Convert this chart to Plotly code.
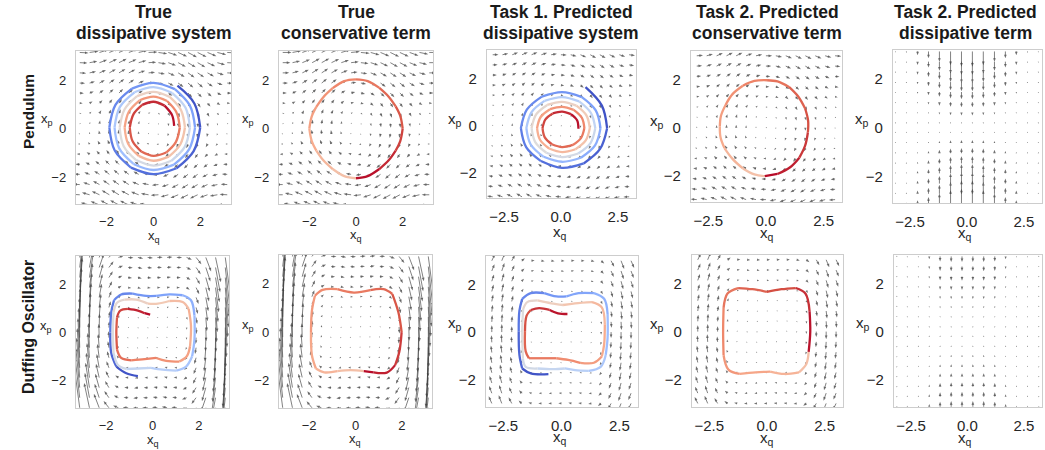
import math
import plotly.graph_objects as go

W, H = 1045, 450
FONT = "Liberation Sans, Arial, sans-serif"

# ---------------- grids of the vector fields ----------------
GRID_A = [-3.14, -2.72, -2.30, -1.88, -1.47, -1.05, -0.63, -0.21, 0.21, 0.63, 1.05, 1.47, 1.88, 2.30, 2.72, 3.14]
GRID_B = [-3.0, -2.57, -2.14, -1.71, -1.29, -0.86, -0.43, 0.0, 0.43, 0.86, 1.29, 1.71, 2.14, 2.57, 3.0]
GRID_C = [-3.14, -2.66, -2.17, -1.69, -1.21, -0.72, -0.24, 0.24, 0.72, 1.21, 1.69, 2.17, 2.66, 3.14]

# dq/dt per row (equals x_p on each grid row)
QDOT_A = [-3.14, -2.72, -2.30, -1.88, -1.47, -1.05, -0.63, -0.21, 0.21, 0.63, 1.05, 1.47, 1.88, 2.30, 2.72, 3.14]
QDOT_B = [-3.0, -2.57, -2.14, -1.71, -1.29, -0.86, -0.43, 0.0, 0.43, 0.86, 1.29, 1.71, 2.14, 2.57, 3.0]

# dp/dt: conservative part per column, dissipative part per row
PEND_FORCE_A = [0.00, 0.60, 1.10, 1.40, 1.46, 1.27, 0.87, 0.31, -0.31, -0.87, -1.27, -1.46, -1.40, -1.10, -0.60, 0.00]
PEND_DAMP_A = [0.16, 0.14, 0.12, 0.09, 0.07, 0.05, 0.03, 0.01, -0.01, -0.03, -0.05, -0.07, -0.09, -0.12, -0.14, -0.16]
PEND_FORCE_B = [0.21, 0.80, 1.24, 1.46, 1.41, 1.11, 0.61, 0.0, -0.61, -1.11, -1.41, -1.46, -1.24, -0.80, -0.21]
PEND_DAMP_B = [0.18, 0.15, 0.13, 0.10, 0.08, 0.05, 0.03, 0.0, -0.03, -0.05, -0.08, -0.10, -0.13, -0.15, -0.18]
PEND_DISS_GAIN_C = [0.03, 0.10, 0.25, 0.45, 0.68, 0.90, 1.0, 1.0, 0.90, 0.68, 0.45, 0.25, 0.10, 0.03]

DUFF_FORCE_A = [22.71, 14.08, 7.86, 3.67, 1.18, -0.08, -0.42, -0.20, 0.20, 0.42, 0.08, -1.18, -3.67, -7.86, -14.08, -22.71]
DUFF_DAMP_A = [0.16, 0.14, 0.12, 0.09, 0.07, 0.05, 0.03, 0.01, -0.01, -0.03, -0.05, -0.07, -0.09, -0.12, -0.14, -0.16]
DUFF_FORCE_B1 = [6.5, 7.5, 5.5, 2.5, 0.6, -0.3, -0.35, 0.0, 0.35, 0.3, -0.6, -2.5, -5.5, -7.5, -6.5]
DUFF_FORCE_B2 = [6.0, 7.0, 5.0, 2.2, 0.6, -0.3, -0.3, 0.0, 0.3, 0.3, -0.6, -2.2, -5.0, -7.0, -6.0]
DUFF_DAMP_B = [0.18, 0.15, 0.13, 0.10, 0.08, 0.05, 0.03, 0.0, -0.03, -0.05, -0.08, -0.10, -0.13, -0.15, -0.18]
DUFF_DISS_GAIN_C = [0.0, 0.05, 0.15, 0.5, 0.9, 1.0, 1.0, 1.0, 1.0, 0.9, 0.5, 0.15, 0.05, 0.0]

# ---------------- trajectories (x_q, x_p) ----------------
PEND_TRUE_Q = [1.02, 1.74, 1.99, 1.71, 0.98, 0.0, -0.96, -1.65, -1.88, -1.62, -0.92, 0.0,
               0.91, 1.55, 1.77, 1.52, 0.87, 0.0, -0.85, -1.46, -1.66, -1.43, -0.81, 0.0,
               0.80, 1.36, 1.55, 1.33, 0.76, 0.0, -0.74, -1.27, -1.44, -1.23, -0.70, 0.0,
               0.69, 1.17, 1.34, 1.14, 0.65, 0.0, -0.63, -1.08, -1.23, -1.05, -0.59, 0.0,
               0.58, 0.98, 1.12, 0.95, 0.54, 0.0, -0.52, -0.89, -1.01, -0.85, -0.48, 0.0,
               0.47, 0.79, 0.88]
PEND_TRUE_P = [1.77, 1.04, 0.05, -0.92, -1.63, -1.87, -1.60, -0.90, 0.05, 0.98, 1.65, 1.89,
               1.63, 0.95, 0.05, -0.84, -1.48, -1.70, -1.45, -0.81, 0.05, 0.90, 1.50, 1.71,
               1.47, 0.87, 0.05, -0.75, -1.32, -1.52, -1.29, -0.72, 0.05, 0.80, 1.34, 1.52,
               1.31, 0.77, 0.05, -0.65, -1.15, -1.32, -1.12, -0.62, 0.05, 0.70, 1.17, 1.32,
               1.14, 0.67, 0.05, -0.55, -0.98, -1.12, -0.94, -0.52, 0.05, 0.60, 0.98, 1.11,
               0.95, 0.56, 0.12]

PEND_PRED_Q = [1.08, 1.80, 2.03, 1.72, 1.00, 0.05, -0.88, -1.53, -1.76, -1.50, -0.84, 0.05,
               0.92, 1.53, 1.74, 1.50, 0.88, 0.05, -0.76, -1.33, -1.52, -1.29, -0.72, 0.05,
               0.80, 1.32, 1.51, 1.30, 0.76, 0.05, -0.64, -1.13, -1.29, -1.09, -0.60, 0.05,
               0.68, 1.12, 1.27, 1.09, 0.64, 0.05, -0.52, -0.92, -1.05, -0.89, -0.48, 0.05,
               0.56, 0.92, 1.03, 0.88, 0.52, 0.05, -0.40, -0.71, -0.81, -0.68, -0.36, 0.05,
               0.44, 0.71, 0.77]
PEND_PRED_P = [1.63, 0.85, -0.10, -0.98, -1.59, -1.78, -1.49, -0.90, -0.10, 0.68, 1.23, 1.42,
               1.21, 0.65, -0.10, -0.83, -1.35, -1.52, -1.31, -0.79, -0.10, 0.58, 1.05, 1.21,
               1.03, 0.54, -0.10, -0.73, -1.17, -1.32, -1.14, -0.69, -0.10, 0.48, 0.88, 1.01,
               0.85, 0.44, -0.10, -0.62, -0.99, -1.11, -0.96, -0.59, -0.10, 0.37, 0.70, 0.80,
               0.67, 0.34, -0.10, -0.52, -0.81, -0.90, -0.78, -0.49, -0.10, 0.27, 0.52, 0.60,
               0.49, 0.23, -0.13]

PEND_CONS_TRUE_Q = [0.0, -0.5, -1.0, -1.4, -1.7, -1.9, -2.0, -1.9, -1.7, -1.4, -1.0, -0.5, 0.0,
                    0.5, 1.0, 1.4, 1.7, 1.9, 2.0, 1.9, 1.7, 1.4, 1.0, 0.5, 0.0]
PEND_CONS_TRUE_P = [-2.04, -1.95, -1.66, -1.30, -0.90, -0.50, 0.0, 0.50, 0.90, 1.30, 1.67, 1.96, 2.03,
                    1.96, 1.68, 1.32, 0.92, 0.52, 0.0, -0.50, -0.90, -1.30, -1.66, -1.95, -2.04]
PEND_CONS_PRED_Q = [-0.05, -0.5, -1.0, -1.45, -1.8, -1.97, -2.0, -1.95, -1.75, -1.45, -1.0, -0.5,
                    0.05, 0.5, 1.0, 1.4, 1.7, 1.83, 1.82, 1.7, 1.45, 1.05, 0.5, -0.05]
PEND_CONS_PRED_P = [-2.02, -1.95, -1.70, -1.30, -0.85, -0.40, 0.05, 0.50, 0.95, 1.40, 1.75, 1.95,
                    1.98, 1.93, 1.70, 1.30, 0.80, 0.30, -0.20, -0.75, -1.25, -1.65, -1.93, -2.02]

DUFF_TRUE_Q = [-0.63, -1.13, -1.56, -1.78, -1.82, -1.78, -1.66, -1.35, -0.85, -0.27, 0.16, 0.73, 1.30,
               1.66, 1.81, 1.81, 1.71, 1.45, 1.02, 0.44, -0.06, -0.63, -1.13, -1.49,
               -1.68, -1.71, -1.68, -1.53, -1.20, -0.70, -0.20, 0.23, 0.73, 1.30, 1.56, 1.66, 1.62,
               1.48, 1.16, 0.59, 0.16, -0.34, -0.92, -1.35,
               -1.53, -1.56, -1.53, -1.39, -1.06, -0.63, -0.34, -0.10]
DUFF_TRUE_P = [-1.82, -1.70, -1.42, -0.85, 0.0, 0.85, 1.35, 1.59, 1.63, 1.53, 1.53, 1.60, 1.56,
               1.35, 0.71, -0.28, -0.99, -1.42, -1.59, -1.55, -1.47, -1.50, -1.52, -1.35,
               -0.85, 0.0, 0.85, 1.25, 1.38, 1.38, 1.21, 1.21, 1.32, 1.28, 0.99, 0.28, -0.57,
               -0.99, -1.21, -1.18, -1.06, -1.11, -1.16, -1.06,
               -0.71, 0.0, 0.64, 0.92, 0.99, 0.92, 0.81, 0.75]

DUFF_PRED_Q = [-0.56, -1.32, -1.69, -1.81, -1.84, -1.81, -1.69, -1.32, -0.74, -0.22, 0.22, 0.74, 1.40,
               1.84, 1.99, 1.99, 1.91, 1.69, 1.18, 0.59, 0.15, -0.37, -1.03, -1.54,
               -1.66, -1.69, -1.65, -1.47, -1.03, -0.44, 0.07, 0.59, 1.32, 1.74, 1.87, 1.84, 1.74,
               1.40, 0.81, 0.29, -0.22, -0.88, -1.40,
               -1.54, -1.57, -1.50, -1.32, -0.96, -0.51, -0.15, 0.26]
DUFF_PRED_P = [-1.77, -1.74, -1.53, -0.96, 0.04, 0.90, 1.40, 1.64, 1.64, 1.50, 1.50, 1.64, 1.64,
               1.40, 0.76, -0.24, -0.96, -1.46, -1.63, -1.60, -1.53, -1.56, -1.53, -1.46,
               -1.10, 0.04, 0.97, 1.26, 1.33, 1.21, 1.14, 1.21, 1.26, 1.04, 0.33, -0.53, -1.03,
               -1.29, -1.29, -1.17, -1.10, -1.10, -1.10,
               -0.81, 0.04, 0.69, 0.93, 1.01, 0.93, 0.79, 0.76]

DUFF_CONS_TRUE_Q = [0.36, -0.21, -0.78, -1.35, -1.71, -1.88, -1.92, -1.88, -1.75, -1.42, -0.78, -0.07,
                    0.64, 1.21, 1.59, 1.85, 1.99, 1.89, 1.71, 1.35, 0.78, 0.36]
DUFF_CONS_TRUE_P = [-1.62, -1.58, -1.62, -1.67, -1.51, -0.96, 0.0, 0.89, 1.51, 1.75, 1.78, 1.64,
                    1.74, 1.78, 1.58, 0.82, 0.0, -0.82, -1.37, -1.68, -1.67, -1.62]
DUFF_CONS_PRED_Q = [1.81, 1.71, 1.39, 0.76, 0.14, -0.49, -1.18, -1.67, -1.88, -1.90, -1.88, -1.71,
                    -1.25, -0.63, 0.0, 0.63, 1.25, 1.67, 1.85, 1.88, 1.81]
DUFF_CONS_PRED_P = [-0.85, -1.35, -1.70, -1.77, -1.67, -1.70, -1.77, -1.59, -0.99, 0.0, 0.99, 1.59,
                    1.82, 1.77, 1.66, 1.77, 1.82, 1.59, 0.85, 0.0, -0.85]

COOLWARM = ['#3b4cc0', '#5977e3', '#7b9ff9', '#9ebeff', '#c0d4f5', '#dddcdc',
            '#f2cbb7', '#f7ac8e', '#ee8468', '#d65244', '#b40426']


def cmap(f):
    f = min(max(f, 0.0), 1.0) * (len(COOLWARM) - 1)
    i = min(int(f), len(COOLWARM) - 2)
    t = f - i
    a = [int(COOLWARM[i][k:k + 2], 16) for k in (1, 3, 5)]
    b = [int(COOLWARM[i + 1][k:k + 2], 16) for k in (1, 3, 5)]
    c = [round(a[k] + (b[k] - a[k]) * t) for k in range(3)]
    return f"rgb({c[0]},{c[1]},{c[2]})"


# ---------------- panels ----------------
# box in pixels: (left, top, right, bottom)
PANELS = [
    dict(box=(76, 51, 231, 204), xr=(-3.3, 3.3), yr=(-3.1, 3.2), kind='true'),
    dict(box=(279, 51, 433, 204), xr=(-3.3, 3.3), yr=(-3.1, 3.2), kind='true'),
    dict(box=(487, 50, 636, 198), xr=(-3.25, 3.3), yr=(-3.05, 3.2), kind='pred'),
    dict(box=(691, 51, 842, 202), xr=(-3.25, 3.3), yr=(-3.1, 3.2), kind='pred'),
    dict(box=(893, 50, 1042, 203), xr=(-3.25, 3.3), yr=(-3.1, 3.2), kind='pred'),
    dict(box=(76, 256, 229, 408), xr=(-3.3, 3.3), yr=(-3.15, 3.2), kind='true'),
    dict(box=(279, 255, 432, 408), xr=(-3.3, 3.3), yr=(-3.15, 3.2), kind='true'),
    dict(box=(486, 256, 638, 407), xr=(-3.25, 3.3), yr=(-3.15, 3.2), kind='pred'),
    dict(box=(692, 255, 843, 407), xr=(-3.25, 3.3), yr=(-3.15, 3.2), kind='pred'),
    dict(box=(894, 255, 1042, 407), xr=(-3.25, 3.3), yr=(-3.15, 3.2), kind='pred'),
]

# field definitions: (q grid, p grid, U(i,j), V(i,j), scale)
FIELDS = [
    (GRID_A, GRID_A, lambda i, j: QDOT_A[i], lambda i, j: PEND_FORCE_A[j] + PEND_DAMP_A[i], 0.12),
    (GRID_A, GRID_A, lambda i, j: QDOT_A[i], lambda i, j: PEND_FORCE_A[j], 0.12),
    (GRID_B, GRID_B, lambda i, j: QDOT_B[i], lambda i, j: PEND_FORCE_B[j] + PEND_DAMP_B[i], 0.085),
    (GRID_B, GRID_B, lambda i, j: QDOT_B[i], lambda i, j: PEND_FORCE_B[j], 0.09),
    (GRID_C, GRID_A, lambda i, j: 0.0, lambda i, j: -PEND_DISS_GAIN_C[j] * GRID_A[i], 0.2),
    (GRID_A, GRID_A, lambda i, j: QDOT_A[i], lambda i, j: DUFF_FORCE_A[j] + DUFF_DAMP_A[i], 0.073),
    (GRID_A, GRID_A, lambda i, j: QDOT_A[i], lambda i, j: DUFF_FORCE_A[j], 0.073),
    (GRID_B, GRID_B, lambda i, j: QDOT_B[i], lambda i, j: DUFF_FORCE_B1[j] + DUFF_DAMP_B[i], 0.045),
    (GRID_B, GRID_B, lambda i, j: QDOT_B[i], lambda i, j: DUFF_FORCE_B2[j], 0.045),
    (GRID_C, GRID_A, lambda i, j: 0.0, lambda i, j: -DUFF_DISS_GAIN_C[j] * GRID_A[i], 0.075),
]

TRAJ = {
    0: (PEND_TRUE_Q, PEND_TRUE_P, 0.0, 1.0),
    1: (PEND_CONS_TRUE_Q, PEND_CONS_TRUE_P, 0.62, 1.0),
    2: (PEND_PRED_Q, PEND_PRED_P, 0.0, 1.0),
    3: (PEND_CONS_PRED_Q, PEND_CONS_PRED_P, 0.62, 1.0),
    5: (DUFF_TRUE_Q, DUFF_TRUE_P, 0.0, 1.0),
    6: (DUFF_CONS_TRUE_Q, DUFF_CONS_TRUE_P, 0.62, 1.0),
    7: (DUFF_PRED_Q, DUFF_PRED_P, 0.0, 1.0),
    8: (DUFF_CONS_PRED_Q, DUFF_CONS_PRED_P, 0.62, 1.0),
}

HEAD_LEN = 3.6   # px
HEAD_HW = 1.35   # px
ARROW_COL = 'rgba(60,60,60,0.72)'

fig = go.Figure()
layout = dict(width=W, height=H, margin=dict(l=0, r=0, t=0, b=0),
              paper_bgcolor='white', plot_bgcolor='white', showlegend=False)

for n, pan in enumerate(PANELS):
    ax = '' if n == 0 else str(n + 1)
    l, t, r, b = pan['box']
    x0, x1 = pan['xr']
    y0, y1 = pan['yr']
    sx = (r - l) / (x1 - x0)
    sy = (b - t) / (y1 - y0)
    big = pan['kind'] == 'pred'
    tfs = 15 if big else 13
    if big:
        xt = dict(tickvals=[-2.5, 0, 2.5], ticktext=['\u22122.5', '0.0', '2.5'])
    else:
        xt = dict(tickvals=[-2, 0, 2], ticktext=['\u22122', '0', '2'])
    common = dict(showgrid=False, zeroline=False, showline=True, mirror=True,
                  linecolor='#cdcdcd', linewidth=1.2, ticks='',
                  tickfont=dict(family=FONT, size=tfs, color='#262626'))
    layout['xaxis' + ax] = dict(domain=[l / W, r / W], range=[x0, x1], anchor='y' + ax,
                                ticklabelstandoff=5, **xt, **common)
    layout['yaxis' + ax] = dict(domain=[1 - b / H, 1 - t / H], range=[y0, y1], anchor='x' + ax,
                                tickvals=[-2, 0, 2], ticktext=['\u22122', '0', '2'],
                                ticklabelstandoff=6, **common)

    # ---- quiver ----
    qs, ps, Uf, Vf, sc = FIELDS[n]
    shx, shy, hx, hy = [], [], [], []
    for i, p in enumerate(ps):
        for j, q in enumerate(qs):
            u = Uf(i, j) * sc
            v = Vf(i, j) * sc
            Lx, Ly = u * sx, v * sy
            L = math.hypot(Lx, Ly)
            if L < 1e-6:
                ex, ey = 1.0, 0.0
            else:
                ex, ey = Lx / L, Ly / L
            nx, ny = -ey, ex
            if L >= HEAD_LEN:
                hl, hw = HEAD_LEN, HEAD_HW
            else:
                hl = max(L, 1.1)
                hw = max(HEAD_HW * hl / HEAD_LEN, 0.6)
            tipx, tipy = (Lx, Ly) if L >= 1.1 else (ex * 1.1, ey * 1.1)
            if L > hl:
                sex, sey = tipx - 0.8 * hl * ex, tipy - 0.8 * hl * ey
                shx += [q, q + sex / sx, None]
                shy += [p, p + sey / sy, None]
            bx, by = tipx - hl * ex, tipy - hl * ey
            pts = [(tipx, tipy), (bx + hw * nx, by + hw * ny), (bx - hw * nx, by - hw * ny), (tipx, tipy)]
            for (ox, oy) in pts:
                hx.append(q + ox / sx)
                hy.append(p + oy / sy)
            hx.append(None)
            hy.append(None)
    fig.add_trace(go.Scatter(x=shx, y=shy, mode='lines', xaxis='x' + ax, yaxis='y' + ax,
                             line=dict(color=ARROW_COL, width=0.9), hoverinfo='skip'))
    fig.add_trace(go.Scatter(x=hx, y=hy, mode='lines', fill='toself', fillcolor=ARROW_COL,
                             xaxis='x' + ax, yaxis='y' + ax, line=dict(width=0, color=ARROW_COL),
                             hoverinfo='skip'))

    # ---- trajectory ----
    if n in TRAJ:
        tq, tp, c0, c1 = TRAJ[n]
        m = len(tq)
        k = 0
        while k < m - 1:
            e = min(k + 2, m - 1)
            frac = (k + e) / 2 / (m - 1)
            col = cmap(c0 + (c1 - c0) * frac)
            fig.add_trace(go.Scatter(x=tq[k:e + 1], y=tp[k:e + 1], mode='lines',
                                     xaxis='x' + ax, yaxis='y' + ax,
                                     line=dict(color=col, width=2.3, shape='spline'),
                                     hoverinfo='skip'))
            k = e

# ---------------- text ----------------
ANN = []


def ann(text, x, y, size, bold=False, angle=0, color='#1a1a1a'):
    ANN.append(dict(text=f"<b>{text}</b>" if bold else text, x=x / W, y=1 - y / H,
                    xref='paper', yref='paper', showarrow=False, xanchor='center',
                    yanchor='middle', textangle=angle,
                    font=dict(family=FONT, size=size, color=color)))


TITLES = [("True", "dissipative system", 154), ("True", "conservative term", 356),
          ("Task 1. Predicted", "dissipative system", 561), ("Task 2. Predicted", "conservative term", 767),
          ("Task 2. Predicted", "dissipative term", 965)]
for l1, l2, cx in TITLES:
    ann(l1, cx, 12, 17.5, bold=True)
    ann(l2, cx, 33, 17.5, bold=True)

ann("Pendulum", 28, 112, 15.5, bold=True, angle=-90)
ann("Duffing Oscillator", 28, 327, 16, bold=True, angle=-90)

XQ_POS = [(154, 236, 13), (356, 235, 13), (560, 232, 15), (767, 233, 15), (965, 233, 15),
          (153, 440, 13), (355, 439, 13), (560, 437, 15), (767, 438, 15), (965, 438, 15)]
XP_POS = [(47, 119, 13), (248, 120, 13), (455, 120, 15), (657, 121, 15), (862, 119, 15),
          (46, 326, 13), (248, 325, 13), (455, 323, 15), (657, 324, 15), (863, 323, 15)]
for (x, y, s) in XQ_POS:
    ann("x<sub>q</sub>", x, y, s, color='#262626')
for (x, y, s) in XP_POS:
    ann("x<sub>p</sub>", x, y, s, color='#262626')

layout['annotations'] = ANN
fig.update_layout(**layout)
fig.write_html("out.html", config={'displayModeBar': False, 'staticPlot': True},
               post_script="document.body.style.margin='0';document.body.style.overflow='hidden';")
